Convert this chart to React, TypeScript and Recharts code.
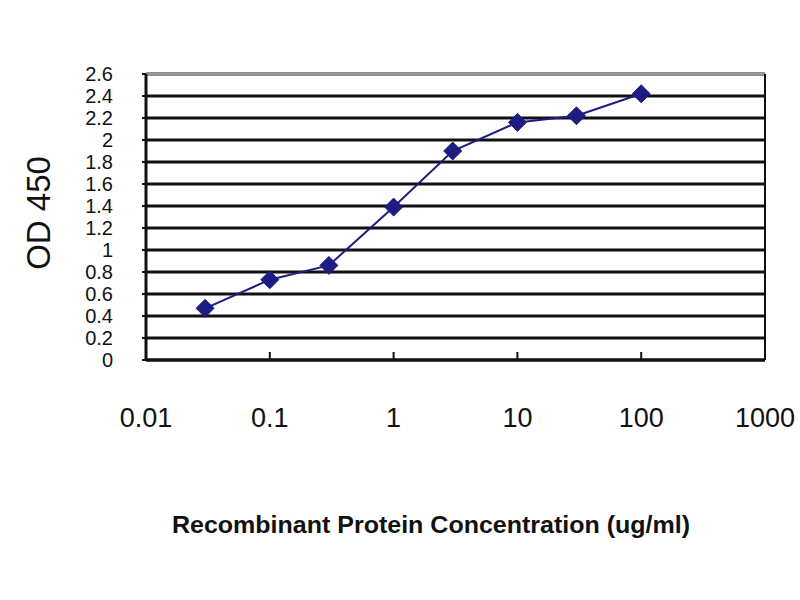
import React from 'react'
import {
	LineChart,
	Line,
	XAxis,
	YAxis,
	CartesianGrid,
	ReferenceLine,
} from 'recharts'

// concentration (ug/ml) and OD 450 readings
const concentrations = [0.03, 0.1, 0.3, 1, 3, 10, 30, 100]
const od450 = [0.47, 0.73, 0.86, 1.39, 1.9, 2.16, 2.22, 2.42]

const xTicks = [0.01, 0.1, 1, 10, 100, 1000]
const yTicks = [0, 0.2, 0.4, 0.6, 0.8, 1, 1.2, 1.4, 1.6, 1.8, 2, 2.2, 2.4, 2.6]

const data = concentrations.map((c, i) => ({ conc: c, od: od450[i] }))

const NAVY = '#1c1c82'

function Diamond(props: { cx?: number; cy?: number; index?: number }) {
	const { cx, cy, index } = props
	if (cx == null || cy == null) return null
	const s = 9
	return (
		<path
			key={index}
			d={`M${cx},${cy - s} L${cx + s},${cy} L${cx},${cy + s} L${cx - s},${cy} Z`}
			fill={NAVY}
			stroke={NAVY}
			strokeWidth={1}
		/>
	)
}

export default function App() {
	return (
		<div
			style={{
				position: 'fixed',
				left: 0,
				top: 0,
				width: 800,
				height: 600,
				background: '#fff',
				fontFamily: '"Liberation Sans", Arial, sans-serif',
			}}
		>
			<LineChart
				width={800}
				height={600}
				data={data}
				margin={{ top: 74, right: 35, bottom: 0, left: 0 }}
			>
				<CartesianGrid
					horizontal
					vertical={false}
					stroke='#111'
					strokeWidth={3}
				/>
				<ReferenceLine y={2.6} stroke='#9a9a9a' strokeWidth={3} />
				<ReferenceLine x={1000} stroke='#111' strokeWidth={2} />
				<XAxis
					dataKey='conc'
					type='number'
					scale='log'
					domain={[0.01, 1000]}
					ticks={xTicks}
					allowDataOverflow
					tickFormatter={v => String(v)}
					height={240}
					axisLine={{ stroke: '#111', strokeWidth: 3 }}
					tickLine={{ stroke: '#111', strokeWidth: 2 }}
					tickSize={-8}
					tickMargin={56}
					tick={{ fontSize: 27, fill: '#111' }}
				/>
				<YAxis
					type='number'
					domain={[0, 2.6]}
					ticks={yTicks}
					interval={0}
					width={146}
					axisLine={{ stroke: '#111', strokeWidth: 3 }}
					tickLine={{ stroke: '#111', strokeWidth: 2 }}
					tickSize={4}
					tickMargin={29}
					tick={{ fontSize: 20, fill: '#111' }}
				/>
				<Line
					type='linear'
					dataKey='od'
					stroke={NAVY}
					strokeWidth={2}
					dot={<Diamond />}
					activeDot={false}
					isAnimationActive={false}
				/>
			</LineChart>
			<svg
				width={800}
				height={600}
				style={{ position: 'absolute', left: 0, top: 0, pointerEvents: 'none' }}
			>
				<text
					x={38}
					y={213}
					transform='rotate(-90 38 213)'
					textAnchor='middle'
					dominantBaseline='central'
					fontSize={33}
					fill='#111'
				>
					OD 450
				</text>
				<text
					x={172}
					y={533}
					fontSize={24}
					fontWeight='bold'
					fill='#111'
					textLength={518}
					lengthAdjust='spacingAndGlyphs'
				>
					Recombinant Protein Concentration (ug/ml)
				</text>
			</svg>
		</div>
	)
}
